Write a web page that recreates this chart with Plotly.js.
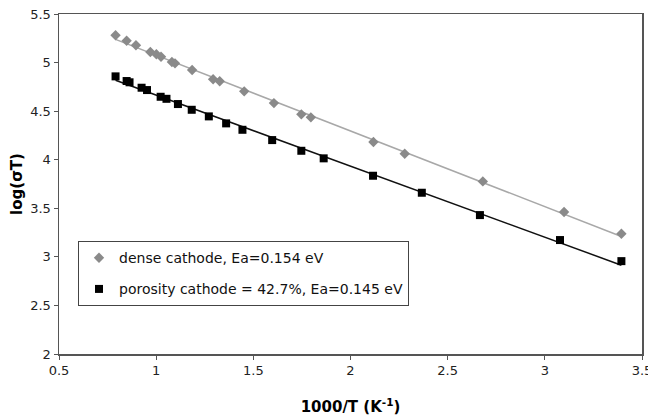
<!DOCTYPE html>
<html>
<head>
<meta charset="utf-8">
<script src="https://cdn.plot.ly/plotly-3.0.1.min.js"></script>
<style>html,body{margin:0;padding:0;background:#fff;}#chart{width:648px;height:416px;}</style>
</head>
<body>
<div id="chart"></div>
<script>
// dense cathode data: x = 1000/T (K^-1), y = log(sigma T)
const denseX = [0.791, 0.848, 0.896, 0.970, 1.001, 1.025, 1.081, 1.097, 1.185, 1.293, 1.327, 1.453, 1.606, 1.747, 1.796, 2.118, 2.279, 2.681, 3.099, 3.394];
const denseY = [5.281, 5.225, 5.178, 5.109, 5.085, 5.060, 5.006, 4.992, 4.923, 4.828, 4.807, 4.704, 4.583, 4.467, 4.436, 4.182, 4.061, 3.777, 3.461, 3.238];
// porosity cathode data
const poroX = [0.791, 0.848, 0.863, 0.925, 0.953, 1.023, 1.053, 1.112, 1.183, 1.271, 1.360, 1.444, 1.597, 1.747, 1.862, 2.116, 2.367, 2.666, 3.078, 3.394];
const poroY = [4.858, 4.810, 4.797, 4.741, 4.717, 4.648, 4.627, 4.573, 4.514, 4.446, 4.374, 4.308, 4.202, 4.092, 4.014, 3.835, 3.660, 3.430, 3.173, 2.956];
const seriesNames = ["dense cathode, Ea=0.154 eV", "porosity cathode = 42.7%, Ea=0.145 eV"];
const xTicks = [0.5, 1, 1.5, 2, 2.5, 3, 3.5];
const yTicks = [2, 2.5, 3, 3.5, 4, 4.5, 5, 5.5];

function linFit(xs, ys) {
  const n = xs.length;
  let sx = 0, sy = 0, sxx = 0, sxy = 0;
  for (let i = 0; i < n; i++) { sx += xs[i]; sy += ys[i]; sxx += xs[i]*xs[i]; sxy += xs[i]*ys[i]; }
  const m = (n*sxy - sx*sy) / (n*sxx - sx*sx);
  const b = (sy - m*sx) / n;
  const x0 = Math.min(...xs), x1 = Math.max(...xs);
  return {x: [x0, x1], y: [m*x0 + b, m*x1 + b]};
}
const fitD = linFit(denseX, denseY);
const fitP = linFit(poroX, poroY);

const traces = [
  {x: fitD.x, y: fitD.y, mode: 'lines', line: {color: '#a8a8a8', width: 1.5}, showlegend: false, hoverinfo: 'skip'},
  {x: fitP.x, y: fitP.y, mode: 'lines', line: {color: '#111', width: 1.5}, showlegend: false, hoverinfo: 'skip'},
  {x: denseX, y: denseY, mode: 'markers', name: seriesNames[0], legendgroup: 'a',
   marker: {symbol: 'diamond', size: 8, color: '#8a8a8a'}},
  {x: poroX, y: poroY, mode: 'markers', name: seriesNames[1], legendgroup: 'b',
   marker: {symbol: 'square', size: 8, color: '#000'}}
];

const axisCommon = {
  showline: true, linecolor: '#555', linewidth: 1.5, mirror: true,
  ticks: 'outside', ticklen: 4, tickwidth: 1, tickcolor: '#555',
  showgrid: false, zeroline: false, ticklabeloverflow: 'allow',
  tickfont: {family: 'DejaVu Sans', size: 13, color: '#222'}
};

const layout = {
  width: 648, height: 416,
  margin: {l: 59, r: 6, t: 14, b: 62},
  paper_bgcolor: '#fff', plot_bgcolor: '#fff',
  xaxis: Object.assign({}, axisCommon, {
    range: [0.5, 3.5], tickvals: xTicks, ticktext: xTicks.map(String),
    title: {text: '1000/T (K<sup>-1</sup>)', font: {family: 'DejaVu Sans', size: 15, color: '#000', weight: 'bold'}, standoff: 24}
  }),
  yaxis: Object.assign({}, axisCommon, {
    range: [2, 5.5], tickvals: yTicks, ticktext: yTicks.map(String),
    title: {text: 'log(σT)', font: {family: 'DejaVu Sans', size: 15, color: '#000', weight: 'bold'}, standoff: 4}
  }),
  legend: {
    x: 0.0326, y: 0.332, xanchor: 'left', yanchor: 'top',
    bgcolor: '#fff', bordercolor: '#444', borderwidth: 1,
    font: {family: 'DejaVu Sans', size: 14, color: '#111'},
    traceorder: 'grouped', tracegroupgap: 10, itemwidth: 30
  },
  showlegend: true
};

Plotly.newPlot('chart', traces, layout, {displayModeBar: false, staticPlot: true});
</script>
</body>
</html>
